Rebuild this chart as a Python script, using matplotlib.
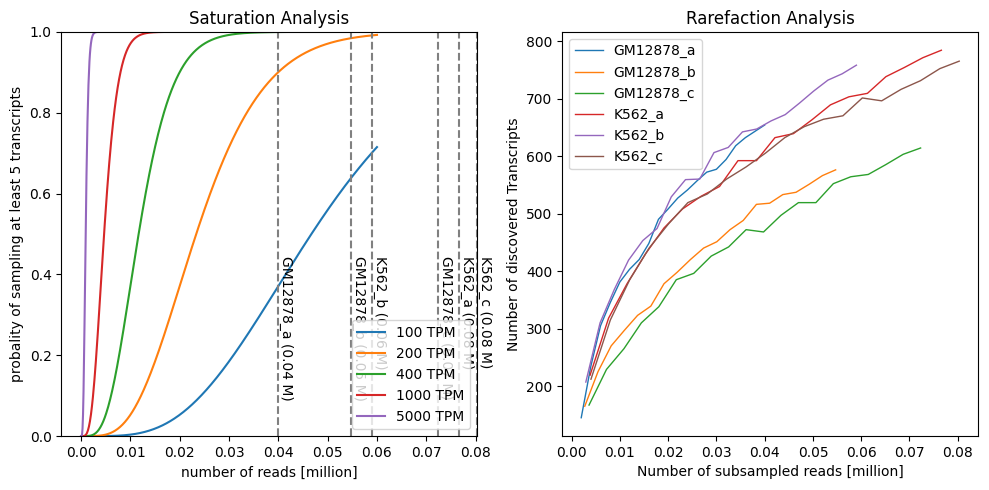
import math
import numpy as np
import matplotlib
matplotlib.use('Agg')
import matplotlib.pyplot as plt

# saturation model: reads needed to see a transcript at least MIN_COUNT times
tpm_levels = [100, 200, 400, 1000, 5000]
MIN_COUNT = 5
max_reads = 0.06

samples = ['GM12878_a', 'GM12878_b', 'GM12878_c', 'K562_a', 'K562_b', 'K562_c']
depths = [0.0400, 0.0547, 0.0723, 0.0766, 0.0590, 0.0803]  # million reads

# subsampling fractions used in the rarefaction curves
fractions = [0.05, 0.10, 0.15, 0.20, 0.25, 0.30, 0.35, 0.40, 0.45, 0.50,
             0.55, 0.60, 0.65, 0.70, 0.75, 0.80, 0.85, 0.90, 0.95, 1.00]

discovered = {
    'GM12878_a': [145, 235, 305, 345, 381, 403, 420, 448, 490, 508,
                  527, 541, 557, 572, 577, 594, 618, 632, 643, 654],
    'GM12878_b': [165, 225, 270, 297, 323, 339, 378, 398, 420, 440,
                  451, 472, 488, 516, 518, 533, 537, 551, 566, 576],
    'GM12878_c': [167, 229, 265, 310, 338, 385, 396, 426, 442, 472,
                  468, 497, 519, 519, 552, 564, 568, 585, 603, 614],
    'K562_a': [219, 318, 378, 430, 475, 508, 530, 547, 592, 592,
               632, 639, 663, 689, 703, 709, 738, 754, 771, 784],
    'K562_b': [207, 310, 368, 419, 453, 474, 529, 559, 560, 606,
               615, 642, 647, 661, 672, 692, 713, 732, 743, 758],
    'K562_c': [212, 315, 385, 440, 482, 519, 534, 560, 581, 605,
               632, 651, 664, 670, 701, 696, 716, 731, 752, 765],
}


def prob_at_least(reads, tpm, k):
    lam = reads * tpm  # expected reads of the transcript
    cdf = sum(np.exp(-lam) * lam ** i / math.factorial(i) for i in range(k))
    return 1 - cdf


fig, (ax1, ax2) = plt.subplots(1, 2, figsize=(9.89, 4.9), dpi=100)
fig.subplots_adjust(left=0.062, right=0.989, bottom=0.110, top=0.935, wspace=0.205)

x = np.linspace(0, max_reads, 600)
for tpm in tpm_levels:
    ax1.plot(x, prob_at_least(x, tpm, MIN_COUNT), label=f'{tpm} TPM')

for name, depth in zip(samples, depths):
    ax1.axvline(depth, color='gray', linestyle='--', linewidth=1.5)
    ax1.text(depth + 0.0002, 0.445, f'{name} ({depth:.2f} M)',
             rotation=-90, va='top', ha='left')

ax1.set_xlim(-0.004, 0.0803)
ax1.set_ylim(0, 1)
ax1.set_xlabel('number of reads [million]')
ax1.set_ylabel('probality of sampling at least 5 transcripts')
ax1.set_title('Saturation Analysis')
ax1.legend(loc='lower right')

for name, depth in zip(samples, depths):
    xs = [depth * f for f in fractions]
    ax2.plot(xs, discovered[name], linewidth=1, label=name)

ax2.set_xlabel('Number of subsampled reads [million]')
ax2.set_ylabel('Number of discovered Transcripts')
ax2.set_title('Rarefaction Analysis')
ax2.legend(loc='upper left')

plt.savefig('out.png')
plt.close()
